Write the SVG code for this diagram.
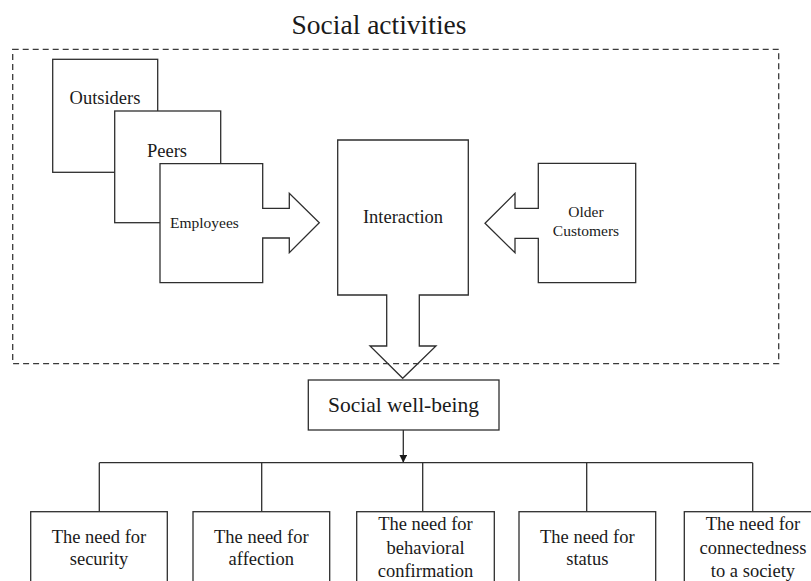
<svg xmlns="http://www.w3.org/2000/svg" width="811" height="581" viewBox="0 0 811 581">
  <defs>
    <style>
      .box { fill: #ffffff; stroke: #2e2e2e; stroke-width: 1.3; stroke-linejoin: miter; }
      .frame { fill: none; stroke: #3a3a3a; stroke-width: 1.3; stroke-dasharray: 6 4; }
      .line { fill: none; stroke: #2e2e2e; stroke-width: 1.3; }
      text { font-family: "Liberation Serif", "Times New Roman", serif; fill: #1a1a1a; }
      .c { text-anchor: middle; }
      .t18 { font-size: 18.5px; }
      .t15 { font-size: 15.5px; }
    </style>
    <marker id="tip" viewBox="0 0 10 10" refX="10" refY="5" markerWidth="8" markerHeight="8" markerUnits="userSpaceOnUse" orient="auto">
      <path d="M0,0 L10,5 L0,10 Z" fill="#1a1a1a"/>
    </marker>
  </defs>

  <rect width="811" height="581" fill="#ffffff"/>

  <!-- title over the social activities frame -->
  <text x="379" y="33.5" class="c" style="font-size:27.5px">Social activities</text>

  <!-- sources of interaction, stacked back to front -->
  <g id="outsiders">
    <rect class="box" x="52.7" y="59.3" width="105" height="113"/>
    <text x="105" y="104" class="c t18">Outsiders</text>
  </g>
  <g id="peers">
    <rect class="box" x="114.7" y="111" width="106" height="111.7"/>
    <text x="167" y="157.3" class="c t18">Peers</text>
  </g>
  <g id="employees">
    <path class="box" d="M160,163.7 H262.7 V208.3 H289.3 V193.3 L319.3,222.7 L289.3,252.7 V238 H262.7 V282.7 H160 Z"/>
    <text x="170" y="228.3" class="t15">Employees</text>
  </g>

  <g id="interaction">
    <path class="box" d="M337.7,140 H468.3 V295 H419.3 V346 H436 L402.7,378.3 L370,346 H386.7 V295 H337.7 Z"/>
    <text x="403" y="223.3" class="c t18">Interaction</text>
  </g>

  <g id="older-customers">
    <path class="box" d="M538.3,163.3 H635.7 V282.7 H538.3 V238.3 H515 V252.7 L485,223.3 L515,193.3 V208.3 H538.3 Z"/>
    <text x="586" y="217.3" class="c t15">Older</text>
    <text x="586" y="236" class="c t15">Customers</text>
  </g>

  <!-- dashed frame around the social activities -->
  <rect class="frame" x="12.7" y="49.3" width="766" height="314.4"/>

  <g id="social-well-being">
    <rect class="box" x="308.3" y="380" width="190.7" height="50"/>
    <text x="403.5" y="412.3" class="c" style="font-size:21.5px">Social well-being</text>
  </g>

  <!-- tree from social well-being to the needs -->
  <g id="connectors">
    <line class="line" x1="403.3" y1="430" x2="403.3" y2="462.7" marker-end="url(#tip)"/>
    <line class="line" x1="99.3" y1="462.7" x2="752.7" y2="462.7"/>
    <line class="line" x1="99.3" y1="462.7" x2="99.3" y2="511.7"/>
    <line class="line" x1="261.7" y1="462.7" x2="261.7" y2="511.7"/>
    <line class="line" x1="422.7" y1="462.7" x2="422.7" y2="511.7"/>
    <line class="line" x1="586.7" y1="462.7" x2="586.7" y2="511.7"/>
    <line class="line" x1="752.7" y1="462.7" x2="752.7" y2="511.7"/>
  </g>

  <g id="need-security">
    <rect class="box" x="30.7" y="511.7" width="136.6" height="90"/>
    <text x="99" y="542.7" class="c t18">The need for</text>
    <text x="99" y="565" class="c t18">security</text>
  </g>
  <g id="need-affection">
    <rect class="box" x="193" y="511.7" width="136.7" height="90"/>
    <text x="261.3" y="542.7" class="c t18">The need for</text>
    <text x="261.3" y="565" class="c t18">affection</text>
  </g>
  <g id="need-behavioral-confirmation">
    <rect class="box" x="356.7" y="511.7" width="137.6" height="90"/>
    <text x="425.5" y="530" class="c t18">The need for</text>
    <text x="425.5" y="553.5" class="c t18">behavioral</text>
    <text x="425.5" y="577" class="c t18">confirmation</text>
  </g>
  <g id="need-status">
    <rect class="box" x="519" y="511.7" width="136.7" height="90"/>
    <text x="587.3" y="542.7" class="c t18">The need for</text>
    <text x="587.3" y="565" class="c t18">status</text>
  </g>
  <g id="need-connectedness">
    <rect class="box" x="684.3" y="511.7" width="137" height="90"/>
    <text x="753" y="530" class="c t18">The need for</text>
    <text x="753" y="553.5" class="c t18">connectedness</text>
    <text x="753" y="577" class="c t18">to a society</text>
  </g>
</svg>
